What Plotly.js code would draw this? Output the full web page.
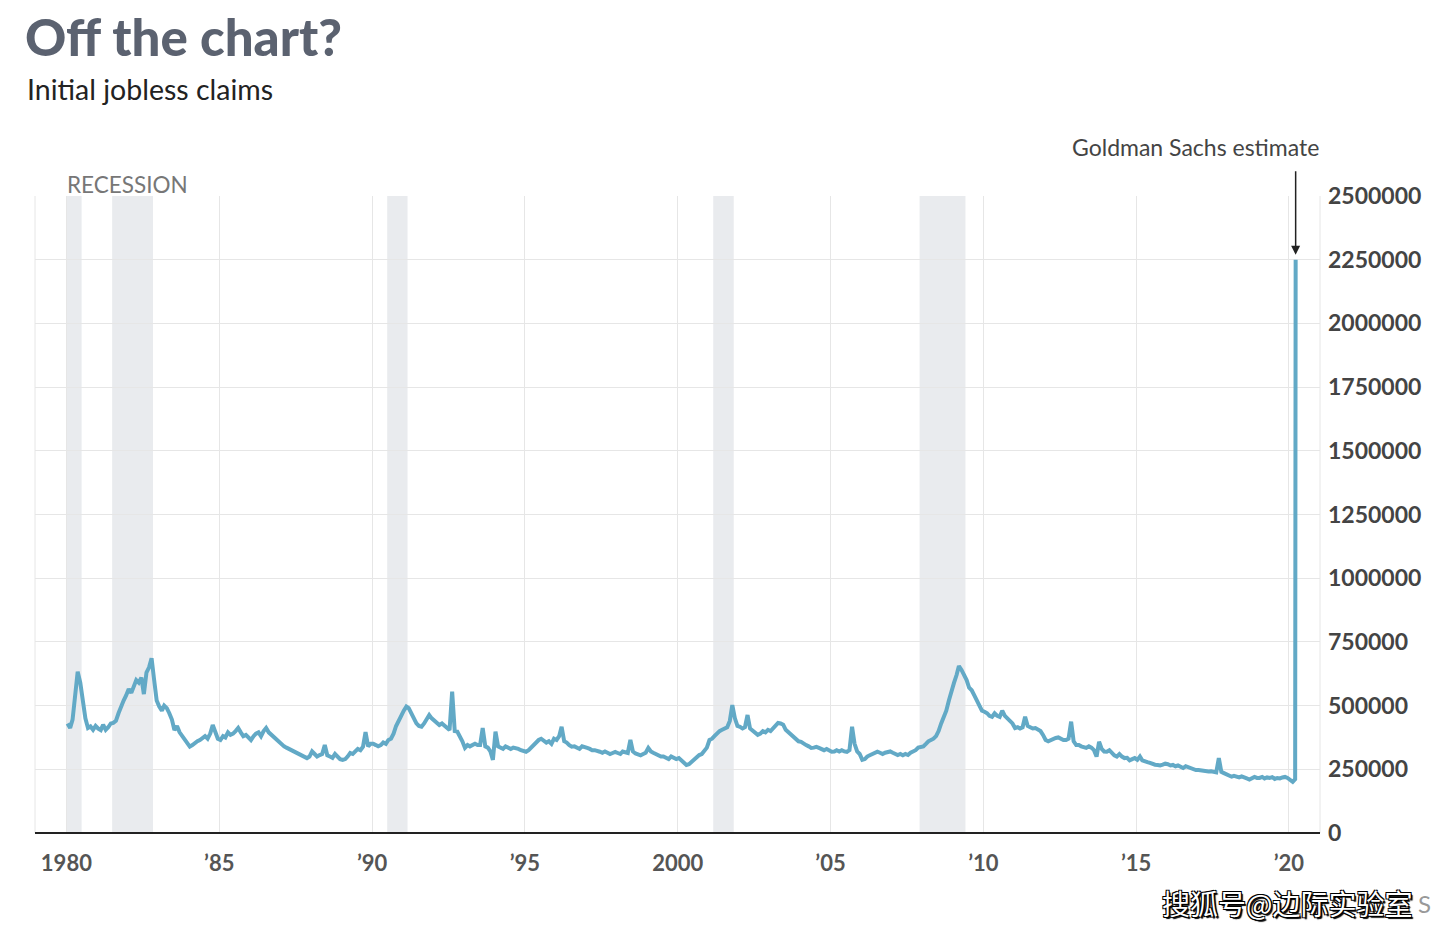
<!DOCTYPE html>
<html>
<head>
<meta charset="utf-8">
<script src="https://cdn.plot.ly/plotly-3.0.1.min.js"></script>
<style>
  body { margin: 0; background: #fff; }
  #chart { width: 1456px; height: 934px; }
</style>
</head>
<body>
<div id="chart"></div>
<script>
var claims1980s = [
  430, 412, 445, 560, 633, 590, 520, 450, 412, 418, 405, 420,  // 1980
  410, 404, 425, 405, 415, 430, 432, 440, 470, 500, 520, 540,  // 1981
  565, 550, 580, 600, 590, 610, 545, 630, 650, 686, 600, 520,  // 1982
  496, 480, 500, 490, 470, 445, 404, 420, 395, 380, 365, 350,  // 1983
  339, 345, 355, 360, 365, 372, 380, 370, 390, 424, 395, 370,  // 1984
  365, 380, 375, 395, 385, 390, 400, 412, 395, 380, 385, 375,  // 1985
  365, 380, 390, 395, 380, 400, 412, 395, 385, 380, 370, 360,  // 1986
  345, 340, 335, 330, 325, 319, 315, 310, 305, 300, 294, 300,  // 1987
  320, 310, 300, 306, 310, 345, 305, 300, 295, 310, 300, 290,  // 1988
  287, 290, 300, 314, 310, 320, 330, 325, 339, 396, 340, 350   // 1989
];
var claims1990s = [
  350, 345, 340, 345, 355, 350, 365, 370, 390, 420, 444, 460,  // 1990
  480, 496, 490, 470, 450, 430, 420, 417, 430, 445, 463, 450,  // 1991
  440, 430, 424, 430, 420, 410, 404, 555, 400, 398, 380, 360,  // 1992
  334, 345, 340, 345, 350, 345, 345, 412, 340, 335, 320, 287,  // 1993
  398, 340, 335, 330, 340, 335, 330, 335, 334, 330, 325, 320,  // 1994
  319, 325, 335, 345, 355, 365, 370, 360, 355, 360, 350, 370,  // 1995
  365, 380, 417, 360, 355, 345, 339, 340, 335, 330, 340, 335,  // 1996
  334, 330, 325, 325, 320, 319, 315, 320, 315, 310, 314, 318,  // 1997
  314, 310, 320, 315, 314, 365, 320, 312, 310, 305, 310, 315,  // 1998
  334, 320, 315, 310, 305, 300, 300, 295, 290, 300, 295, 290   // 1999
];
var claims2000s = [
  294, 285, 275, 267, 270, 280, 285, 300, 306, 310, 320, 335,  // 2000
  365, 370, 380, 392, 400, 405, 410, 415, 440, 502, 450, 420,  // 2001
  417, 410, 415, 463, 410, 400, 390, 385, 390, 400, 395, 405,  // 2002
  400, 410, 420, 432, 430, 425, 405, 395, 390, 375, 365, 360,  // 2003
  358, 350, 345, 340, 334, 335, 338, 334, 330, 325, 330, 325,  // 2004
  319, 320, 325, 320, 325, 320, 318, 325, 417, 350, 320, 310,  // 2005
  287, 290, 300, 305, 310, 315, 319, 315, 310, 315, 319, 320,  // 2006
  315, 310, 306, 310, 305, 310, 306, 315, 320, 325, 335, 339,  // 2007
  340, 350, 360, 365, 370, 380, 400, 430, 456, 480, 520, 560,  // 2008
  589, 620, 655, 640, 620, 600, 570, 560, 540, 520, 496, 480   // 2009
];
var claims2010s = [
  476, 470, 460, 456, 470, 460, 456, 480, 460, 450, 440, 430,  // 2010
  412, 415, 410, 415, 456, 420, 415, 410, 412, 405, 400, 385,  // 2011
  365, 360, 365, 370, 373, 375, 370, 365, 365, 370, 437, 360,  // 2012
  345, 345, 340, 335, 334, 340, 335, 325, 300, 358, 330, 320,  // 2013
  319, 325, 315, 305, 300, 310, 300, 294, 295, 285, 290, 294,  // 2014
  287, 300, 285, 280, 278, 275, 270, 268, 267, 265, 268, 272,  // 2015
  270, 265, 267, 262, 265, 260, 255, 262, 258, 255, 250, 247,  // 2016
  247, 245, 243, 240, 241, 242, 240, 238, 294, 240, 235, 230,  // 2017
  225, 221, 224, 220, 218, 222, 216, 214, 210, 214, 220, 216,  // 2018
  216, 220, 214, 218, 216, 219, 212, 216, 214, 218, 220, 216   // 2019
];
var claims2020 = [210, 201, 211];

var estimateDate = '2020-03-21';
var estimateValue = 2250000;

var recessionStarts = ['1980-01-01', '1981-07-01', '1990-07-01', '2001-03-01', '2007-12-01'];
var recessionEnds   = ['1980-07-01', '1982-11-01', '1991-03-01', '2001-11-01', '2009-06-01'];

var tickYears = ['1980-01-01', '1985-01-01', '1990-01-01', '1995-01-01', '2000-01-01',
                 '2005-01-01', '2010-01-01', '2015-01-01', '2020-01-01'];
var tickLabels = ['1980', '\u201985', '\u201990', '\u201995', '2000',
                  '\u201905', '\u201910', '\u201915', '\u201920'];

var allClaims = claims1980s.concat(claims1990s, claims2000s, claims2010s, claims2020);
var xs = [], ys = [];
allClaims.forEach(function (v, i) {
  var yr = 1980 + Math.floor(i / 12);
  var mo = (i % 12) + 1;
  xs.push(yr + '-' + (mo < 10 ? '0' + mo : mo) + '-15');
  ys.push(v * 1000);
});
xs.push(estimateDate);
ys.push(estimateValue);

var trace = {
  x: xs,
  y: ys,
  type: 'scatter',
  mode: 'lines',
  line: { color: '#62a9c6', width: 4 },
  hoverinfo: 'skip'
};

var shapes = recessionStarts.map(function (s, i) {
  return {
    type: 'rect', xref: 'x', yref: 'paper',
    x0: s, x1: recessionEnds[i], y0: 0, y1: 1,
    fillcolor: '#e9ebee', line: { width: 0 }, layer: 'below'
  };
});
// plot frame left and right
shapes.push({ type: 'line', xref: 'paper', yref: 'paper', x0: 0, x1: 0, y0: 0, y1: 1,
  line: { color: '#e6e6e6', width: 1 }, layer: 'below' });
shapes.push({ type: 'line', xref: 'paper', yref: 'paper', x0: 1, x1: 1, y0: 0, y1: 1,
  line: { color: '#e6e6e6', width: 1 }, layer: 'below' });

var font = 'Lato, "Open Sans", sans-serif';

var layout = {
  width: 1456,
  height: 934,
  margin: { l: 35, r: 136, t: 196, b: 101 },
  paper_bgcolor: '#fff',
  plot_bgcolor: '#fff',
  showlegend: false,
  font: { family: font, color: '#444' },
  title: {
    text: 'Off the chart?',
    font: { family: font, size: 51, weight: 900, color: '#5b6270' },
    x: 25 / 1456, xanchor: 'left',
    y: 1 - 38 / 934, yanchor: 'middle', yref: 'container'
  },
  xaxis: {
    type: 'date',
    range: ['1978-12-22', '2021-01-06'],
    tickvals: tickYears,
    ticktext: tickLabels,
    showgrid: true,
    gridcolor: '#e6e6e6',
    gridwidth: 1,
    ticks: '',
    ticklabelstandoff: 15,
    tickfont: { family: font, size: 22, weight: 'bold', color: '#555' },
    showline: false,
    zeroline: false,
    fixedrange: true
  },
  yaxis: {
    side: 'right',
    range: [0, 2500000],
    dtick: 250000,
    tickformat: 'd',
    showgrid: true,
    gridcolor: '#e6e6e6',
    gridwidth: 1,
    zeroline: true,
    zerolinecolor: '#222',
    zerolinewidth: 2,
    ticks: '',
    ticklabelstandoff: 7,
    tickfont: { family: font, size: 23, weight: 'bold', color: '#444' },
    fixedrange: true
  },
  shapes: shapes,
  annotations: [
    {
      text: 'Initial jobless claims',
      xref: 'paper', yref: 'paper',
      x: (25 - 35) / 1285, y: (833 - 89) / 637,
      xanchor: 'left', yanchor: 'middle', showarrow: false,
      font: { family: font, size: 28.5, color: '#222' }
    },
    {
      text: 'RECESSION',
      xref: 'paper', yref: 'paper',
      x: (65 - 35) / 1285, y: (833 - 184) / 637,
      xanchor: 'left', yanchor: 'middle', showarrow: false,
      font: { family: font, size: 22.5, color: '#777' }
    },
    {
      text: 'Goldman Sachs estimate',
      xref: 'paper', yref: 'paper',
      x: (1195 - 35) / 1285, y: (833 - 147) / 637,
      xanchor: 'center', yanchor: 'middle', showarrow: false,
      font: { family: font, size: 23, color: '#444' }
    },
    {
      text: '',
      x: estimateDate, y: estimateValue,
      xref: 'x', yref: 'y',
      showarrow: true, arrowhead: 2, arrowsize: 1.2, arrowwidth: 1.5,
      arrowcolor: '#222', standoff: 5, ax: 0, ay: -90
    },
    {
      text: '搜狐号@边际实验室',
      xref: 'paper', yref: 'paper',
      x: (1160 - 35) / 1285, y: (833 - 903) / 637,
      xanchor: 'left', yanchor: 'middle', showarrow: false,
      font: {
        family: '"Noto Sans CJK SC", sans-serif', size: 28, color: '#fff',
        shadow: '1px 1px 0 #000, -1px -1px 0 #000, 1px -1px 0 #000, -1px 1px 0 #000, 2px 2px 1px #000'
      }
    },
    {
      text: 'S',
      xref: 'paper', yref: 'paper',
      x: (1416 - 35) / 1285, y: (833 - 903) / 637,
      xanchor: 'left', yanchor: 'middle', showarrow: false,
      font: { family: font, size: 24, color: '#999' }
    }
  ]
};

Plotly.newPlot('chart', [trace], layout, { displayModeBar: false, staticPlot: true });
</script>
</body>
</html>
